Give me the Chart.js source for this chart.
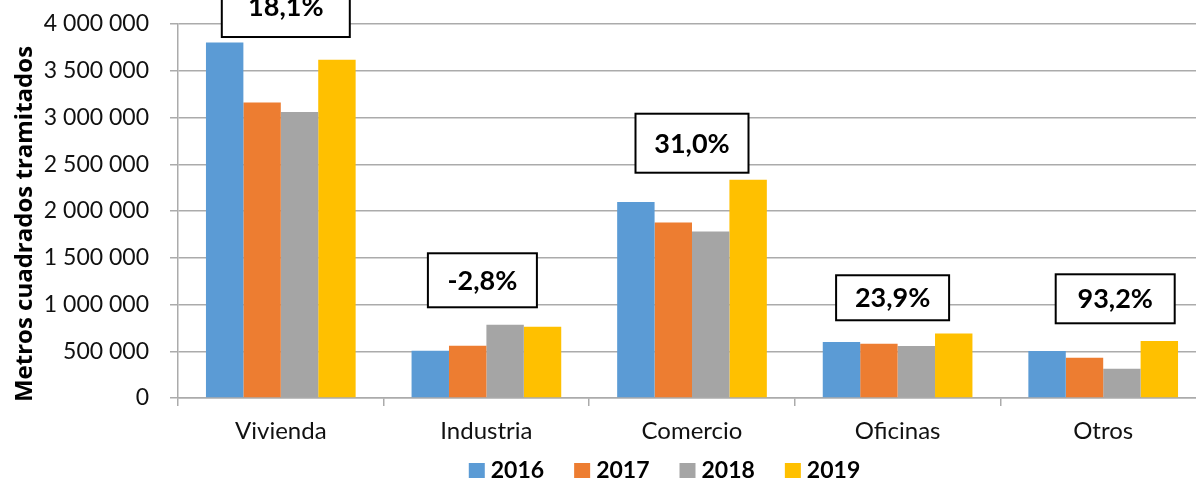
<!DOCTYPE html>
<html><head><meta charset="utf-8">
<script src="https://cdn.jsdelivr.net/npm/chart.js@4"></script>
<style>
html,body{margin:0;padding:0;background:#fff;overflow:hidden}
#wrap{width:1196px;height:480px;overflow:hidden;position:relative;background:#fff}
canvas{display:block}
</style></head>
<body><div id="wrap"><canvas id="c" width="1212" height="480"></canvas></div>
<script>
const categories = ['Vivienda', 'Industria', 'Comercio', 'Oficinas', 'Otros'];
const years = ['2016', '2017', '2018', '2019'];
const values2016 = [3803000, 506000, 2096000, 599000, 503000];
const values2017 = [3161000, 559000, 1878000, 581000, 431000];
const values2018 = [3059000, 784000, 1782000, 556000, 313000];
const values2019 = [3618000, 763000, 2335000, 691000, 610000];
const growthLabels = ['18,1%', '-2,8%', '31,0%', '23,9%', '93,2%'];
const yTickLabels = ['0', '500 000', '1 000 000', '1 500 000', '2 000 000', '2 500 000', '3 000 000', '3 500 000', '4 000 000'];
const yTitle = 'Metros cuadrados tramitados';

// layout of the growth boxes (value-axis centre, pixel offset and size)
const growthBoxCenter = [4187000, 1259000, 2725000, 1072000, 1061000];
const growthBoxOffsetX = [5, -4, 0, -5, 12];
const growthBoxW = [128, 109, 113, 113, 119];
const growthBoxH = [61, 54, 59, 45, 49];

const colors = ['#5B9BD5', '#ED7D31', '#A5A5A5', '#FFC000'];
const seriesValues = [values2016, values2017, values2018, values2019];
const FONT = 'Lato, "Open Sans", sans-serif';
const gridColor = '#ababab';

const decor = {
  id: 'decor',
  afterDraw(chart) {
    const ctx = chart.ctx;
    const xs = chart.scales.x, ys = chart.scales.y;
    ctx.save();
    // growth boxes
    growthLabels.forEach((t, i) => {
      const cx = xs.getPixelForValue(i) + growthBoxOffsetX[i];
      const cy = ys.getPixelForValue(growthBoxCenter[i]);
      const w = growthBoxW[i], h = growthBoxH[i];
      ctx.fillStyle = '#fff';
      ctx.fillRect(cx - w / 2, cy - h / 2, w, h);
      ctx.strokeStyle = '#000';
      ctx.lineWidth = 2;
      ctx.strokeRect(cx - w / 2, cy - h / 2, w, h);
      ctx.fillStyle = '#000';
      ctx.font = 'bold 27px ' + FONT;
      ctx.textAlign = 'center';
      ctx.textBaseline = 'middle';
      ctx.fillText(t, cx, cy + 1);
    });
    // legend
    ctx.font = 'bold 23px ' + FONT;
    const box = 16, gap = 6, spacing = 30;
    const ds = chart.data.datasets;
    const widths = ds.map(d => box + gap + ctx.measureText(d.label).width);
    const total = widths.reduce((a, b) => a + b, 0) + spacing * (ds.length - 1);
    let x = 664.5 - total / 2;
    const ly = 470;
    ds.forEach((d, i) => {
      ctx.fillStyle = d.backgroundColor;
      ctx.fillRect(x, ly - 7, box, 15);
      ctx.fillStyle = '#000';
      ctx.textAlign = 'left';
      ctx.textBaseline = 'middle';
      ctx.fillText(d.label, x + box + gap, ly + 1);
      x += widths[i] + spacing;
    });
    // y title
    ctx.translate(25, 224);
    ctx.rotate(-Math.PI / 2);
    ctx.font = 'bold 24px "Open Sans", Lato, sans-serif';
    ctx.textAlign = 'center';
    ctx.textBaseline = 'middle';
    ctx.fillStyle = '#000';
    ctx.fillText(yTitle, 0, 0);
    ctx.restore();
  }
};

new Chart(document.getElementById('c'), {
  type: 'bar',
  data: {
    labels: categories,
    datasets: years.map((y, i) => ({
      label: y,
      data: seriesValues[i],
      backgroundColor: colors[i],
      borderWidth: 0,
      categoryPercentage: 0.728,
      barPercentage: 1.0
    }))
  },
  options: {
    responsive: false,
    animation: false,
    layout: { padding: { top: 24, right: 6, bottom: 0, left: 0 } },
    plugins: { legend: { display: false }, tooltip: { enabled: false }, title: { display: false } },
    scales: {
      x: {
        grid: { offset: true, drawOnChartArea: false, drawTicks: true, tickLength: 8, color: gridColor, lineWidth: 1.5 },
        border: { display: true, color: gridColor, width: 1.5 },
        ticks: { font: { family: FONT, size: 24 }, color: '#111', padding: 11, maxRotation: 0, autoSkip: false },
        afterFit(s) { s.height = 82; s.paddingLeft = 0; s.paddingRight = 0; }
      },
      y: {
        min: 0, max: 4000000,
        ticks: {
          stepSize: 500000,
          font: { family: FONT, size: 23 }, color: '#111', padding: 21,
          callback: (v, i) => yTickLabels[i]
        },
        grid: { color: gridColor, lineWidth: 1.5, tickLength: 8, drawTicks: true },
        border: { display: true, color: gridColor, width: 1.5 },
        afterFit(s) { s.width = 178; s.paddingTop = 0; s.paddingBottom = 0; }
      }
    }
  },
  plugins: [decor]
});
</script>
</body></html>
